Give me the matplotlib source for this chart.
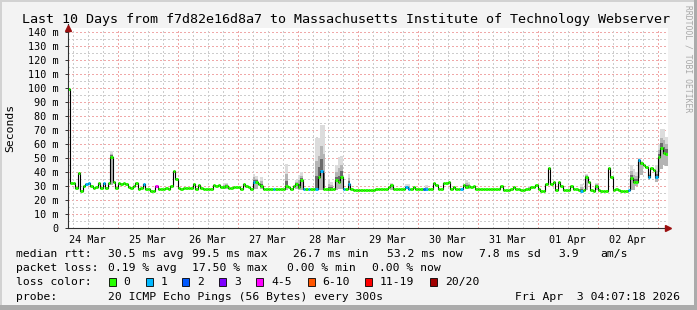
import numpy as np
import matplotlib
matplotlib.use('Agg')
import matplotlib.pyplot as plt
from matplotlib.patches import Rectangle

# hourly median rtt (ms), first bin starts Mar 24 04:00
median_ms = [
    99.5, 32.5, 32.5, 28.8, 39.0, 26.7, 30.0, 31.4, 32.4, 30.0,
    28.8, 29.5, 32.0, 28.3, 32.4, 28.8, 32.0, 51.0, 33.0, 28.3,
    32.4, 31.4, 32.4, 31.4, 29.5, 28.8, 30.0, 32.4, 28.0, 28.5,
    31.4, 28.0, 27.6, 26.7, 26.7, 30.0, 28.0, 27.6, 27.6, 28.3,
    27.6, 30.0, 40.7, 35.2, 28.8, 27.6, 28.3, 28.8, 28.8, 28.5,
    31.4, 28.0, 30.5, 28.5, 27.6, 27.6, 28.0, 27.6, 30.7, 30.0,
    30.7, 29.5, 29.0, 30.0, 28.5, 28.5, 29.5, 29.0, 29.0, 28.0,
    31.4, 30.0, 29.0, 28.0, 33.0, 33.0, 31.4, 30.0, 27.6, 27.6,
    27.6, 27.6, 27.6, 27.6, 27.6, 27.6, 27.6, 30.0, 29.0, 28.0,
    30.0, 31.4, 29.0, 34.3, 28.0, 28.0, 28.0, 28.0, 28.0, 28.0,
    36.7, 40.9, 28.0, 27.6, 27.6, 27.6, 27.6, 34.0, 33.0, 36.7,
    27.6, 27.6, 31.4, 28.0, 27.5, 27.5, 27.5, 27.5, 27.5, 27.5,
    27.5, 27.5, 27.5, 28.0, 27.6, 27.6, 27.6, 28.0, 29.0, 30.5,
    28.0, 27.6, 27.6, 28.0, 28.0, 29.0, 28.0, 28.0, 29.5, 27.6,
    27.6, 28.0, 28.0, 27.6, 28.0, 28.0, 32.4, 30.7, 28.0, 27.6,
    32.4, 32.4, 33.0, 28.0, 29.0, 28.0, 28.0, 28.0, 30.7, 29.5,
    30.0, 29.5, 30.0, 28.0, 27.6, 27.6, 27.6, 27.6, 27.6, 27.6,
    27.6, 27.6, 27.6, 30.0, 27.2, 27.2, 27.2, 28.0, 29.0, 27.6,
    27.6, 27.2, 27.2, 28.0, 28.0, 29.0, 29.0, 30.7, 28.0, 26.7,
    26.7, 31.4, 42.6, 31.4, 33.0, 27.2, 33.0, 30.0, 27.2, 27.2,
    27.2, 30.0, 27.6, 27.6, 27.2, 26.7, 27.2, 36.4, 33.0, 27.2,
    26.7, 30.0, 27.2, 26.7, 26.7, 26.7, 42.6, 36.7, 27.2, 28.0,
    27.2, 26.7, 26.7, 26.7, 27.2, 35.7, 33.0, 33.0, 48.6, 46.2,
    45.0, 43.3, 36.7, 42.6, 41.4, 36.2, 50.9, 56.9, 53.8, 53.2,
]

# smoke (min / max ping) for the hours where it shows
smoke_hour = [17, 62, 63, 74, 75, 77, 87, 91, 92, 93, 99, 100, 101, 102, 104, 105, 107, 108,
              109, 112, 129, 135, 136, 143, 159, 160, 184, 205, 207, 211, 225, 226, 227, 228,
              229, 232, 235, 236, 237, 238, 239]
smoke_min = [31.0, 28.0, 28.0, 28.0, 28.0, 28.0, 27.0, 28.0, 27.5, 27.5, 27.0, 27.0, 27.0, 27.0,
             27.0, 27.0, 27.0, 28.0, 28.0, 27.5, 27.0, 27.6, 27.6, 27.6, 28.0, 28.0, 27.6, 26.7,
             27.0, 27.0, 27.0, 27.0, 30.0, 36.0, 38.0, 34.0, 33.0, 40.0, 42.0, 45.0, 44.0]
smoke_max = [55.0, 32.0, 32.0, 38.7, 37.0, 36.7, 45.5, 34.0, 38.0, 40.0, 64.0, 64.0, 73.6, 73.6,
             35.0, 33.0, 45.0, 51.0, 51.4, 38.7, 32.0, 31.4, 31.4, 30.5, 34.0, 33.0, 30.0, 31.4,
             38.7, 32.0, 45.0, 42.0, 40.0, 50.0, 48.0, 40.0, 45.0, 60.0, 70.8, 70.8, 65.0]

# lost pings (of 20) where nonzero
loss_hour = [7, 8, 14, 30, 35, 74, 82, 94, 96, 99, 101, 110, 112, 135, 136, 142, 143, 157,
             205, 224, 228, 232, 235]
loss_count = [1, 1, 1, 1, 4, 1, 1, 1, 1, 1, 1, 1, 1, 1, 1, 2, 1, 1, 1, 1, 1, 1, 1]

loss_labels = ['0', '1', '2', '3', '4-5', '6-10', '11-19', '20/20']
loss_colors = ['#26ff00', '#00b8ff', '#0059ff', '#7e00ff', '#ff00ff', '#ff5500', '#ff0000', '#a10000']

day_labels = ['24 Mar', '25 Mar', '26 Mar', '27 Mar', '28 Mar', '29 Mar', '30 Mar', '31 Mar',
              '01 Apr', '02 Apr']

stats_rtt = ['30.5 ms avg', '99.5 ms max', '26.7 ms min', '53.2 ms now', '7.8 ms sd', '3.9', 'am/s']
stats_loss = ['0.19 % avg', '17.50 % max', '0.00 % min', '0.00 % now']

W, H = 697, 310
MONO = 'DejaVu Sans Mono'


def fx(x):
    return x / W


def fy(y):
    return 1 - y / H


def loss_index(n):
    if n <= 3:
        return n
    if n <= 5:
        return 4
    if n <= 10:
        return 5
    if n <= 19:
        return 6
    return 7


fig = plt.figure(figsize=(W / 100, H / 100), dpi=100, facecolor='#f3f3f3')

# 3d-ish frame
fig.add_artist(Rectangle((0, fy(2)), 1, 2 / H, transform=fig.transFigure, color='#d2d2d2', lw=0))
fig.add_artist(Rectangle((0, 0), fx(2), 1, transform=fig.transFigure, color='#d2d2d2', lw=0))
fig.add_artist(Rectangle((fx(694), 0), 3 / W, 1, transform=fig.transFigure, color='#ababab', lw=0))
fig.add_artist(Rectangle((0, 0), 1, 5 / H, transform=fig.transFigure, color='#ababab', lw=0))

ax = fig.add_axes([fx(68), fy(228), 600 / W, 200 / H])
ax.set_facecolor('white')
t0 = 4.12  # Mar 24 04:07
ax.set_xlim(t0, t0 + 240)
ax.set_ylim(0, 200 / 1.4)

# grid
for v in np.arange(5, 145, 5):
    major = v % 10 == 0
    ax.axhline(v, color='#f0a8a8' if major else '#cdcdcd', lw=1.0, ls=(0, (1, 2)),
               antialiased=False, zorder=1)
for t in np.arange(6, 246, 6):
    major = t % 24 == 0
    ax.axvline(t, color='#f0a8a8' if major else '#cdcdcd', lw=1.0, ls=(0, (1, 2)),
               antialiased=False, zorder=1)

hours = 4 + np.arange(len(median_ms))
med = np.array(median_ms)

# smoke
for k, lo, hi in zip(smoke_hour, smoke_min, smoke_max):
    m = med[k]
    ax.bar(hours[k], hi - lo, bottom=lo, width=1, align='edge', color='#dcdcdc', lw=0, zorder=2)
    mid = m + 0.55 * (hi - m)
    ax.bar(hours[k], mid - lo, bottom=lo, width=1, align='edge', color='#b4b4b4', lw=0, zorder=2)
    dark = m + 0.25 * (hi - m)
    ax.bar(hours[k], dark - (m - 1), bottom=m - 1, width=1, align='edge', color='#6a6a6a', lw=0, zorder=2)

# median line
ax.step(np.append(hours, hours[-1] + 1), np.append(med, med[-1]), where='post',
        color='black', lw=0.8, zorder=3)
seg_colors = [loss_colors[0]] * len(med)
for k, n in zip(loss_hour, loss_count):
    seg_colors[k] = loss_colors[loss_index(n)]
ax.hlines(med, hours, hours + 1, colors=seg_colors, lw=2.1, zorder=4)

# axes
for s in ['top', 'right']:
    ax.spines[s].set_visible(False)
for s in ['left', 'bottom']:
    ax.spines[s].set_color('#303030')
    ax.spines[s].set_linewidth(0.8)
    ax.spines[s].set_zorder(5)
ax.plot([0], [1.0], marker='^', ms=4.5, color='#9b1010', transform=ax.transAxes, clip_on=False, zorder=6)
ax.plot([1.0], [0], marker='>', ms=4.5, color='#9b1010', transform=ax.transAxes, clip_on=False, zorder=6)
ax.plot([0, 0], [1.0, 1.02], color='#303030', lw=0.8, transform=ax.transAxes, clip_on=False)

yt = np.arange(0, 150, 10)
ax.set_yticks(yt)
ax.set_yticklabels(['0'] + ['%d m' % v for v in yt[1:]], fontfamily=MONO, fontsize=7.3)
ax.tick_params(axis='y', length=2, width=0.7, color='#303030', pad=5)
ax.set_xticks(12 + 24 * np.arange(len(day_labels)))
ax.set_xticklabels(day_labels, fontfamily=MONO, fontsize=7.3)
ax.tick_params(axis='x', length=0, pad=5)

# texts
fig.text(fx(346.5), fy(19), 'Last 10 Days from f7d82e16d8a7 to Massachusetts Institute of Technology Webserver',
         ha='center', va='center', fontfamily=MONO, fontsize=9.6)
fig.text(fx(10), fy(128), 'Seconds', rotation=90, ha='center', va='center', fontfamily=MONO, fontsize=8.2)
fig.text(fx(688), fy(5), 'RRDTOOL / TOBI OETIKER', rotation=270, ha='center', va='top',
         fontfamily=MONO, fontsize=5.8, color='#a8a8a8')

LS = 8.2
rows = [254, 268, 282, 296.5]
fig.text(fx(16.4), fy(rows[0]), 'median rtt:', va='center', fontfamily=MONO, fontsize=LS)
for s, x in zip(stats_rtt, [107.6, 192, 293, 387, 479, 558, 600]):
    fig.text(fx(x), fy(rows[0]), s, va='center', fontfamily=MONO, fontsize=LS)
fig.text(fx(16.4), fy(rows[1]), 'packet loss:', va='center', fontfamily=MONO, fontsize=LS)
for s, x in zip(stats_loss, [107.6, 192, 287, 372]):
    fig.text(fx(x), fy(rows[1]), s, va='center', fontfamily=MONO, fontsize=LS)
fig.text(fx(16.4), fy(rows[2]), 'loss color:', va='center', fontfamily=MONO, fontsize=LS)
sw_x = [108.7, 145.5, 182.3, 219, 256.4, 307.6, 365, 430]
for lab, col, x in zip(loss_labels, loss_colors, sw_x):
    fig.add_artist(Rectangle((fx(x), fy(285.5)), 7 / W, 8 / H, transform=fig.transFigure,
                             facecolor=col, edgecolor='black', lw=0.6))
    fig.text(fx(x + 15), fy(rows[2]), lab, va='center', fontfamily=MONO, fontsize=LS)
fig.text(fx(16.4), fy(rows[3]), 'probe:', va='center', fontfamily=MONO, fontsize=LS)
fig.text(fx(107.6), fy(rows[3]), '20 ICMP Echo Pings (56 Bytes) every 300s', va='center',
         fontfamily=MONO, fontsize=LS)
fig.text(fx(680), fy(rows[3]), 'Fri Apr  3 04:07:18 2026', ha='right', va='center',
         fontfamily=MONO, fontsize=LS)

fig.savefig('out.png', dpi=100, facecolor=fig.get_facecolor())
